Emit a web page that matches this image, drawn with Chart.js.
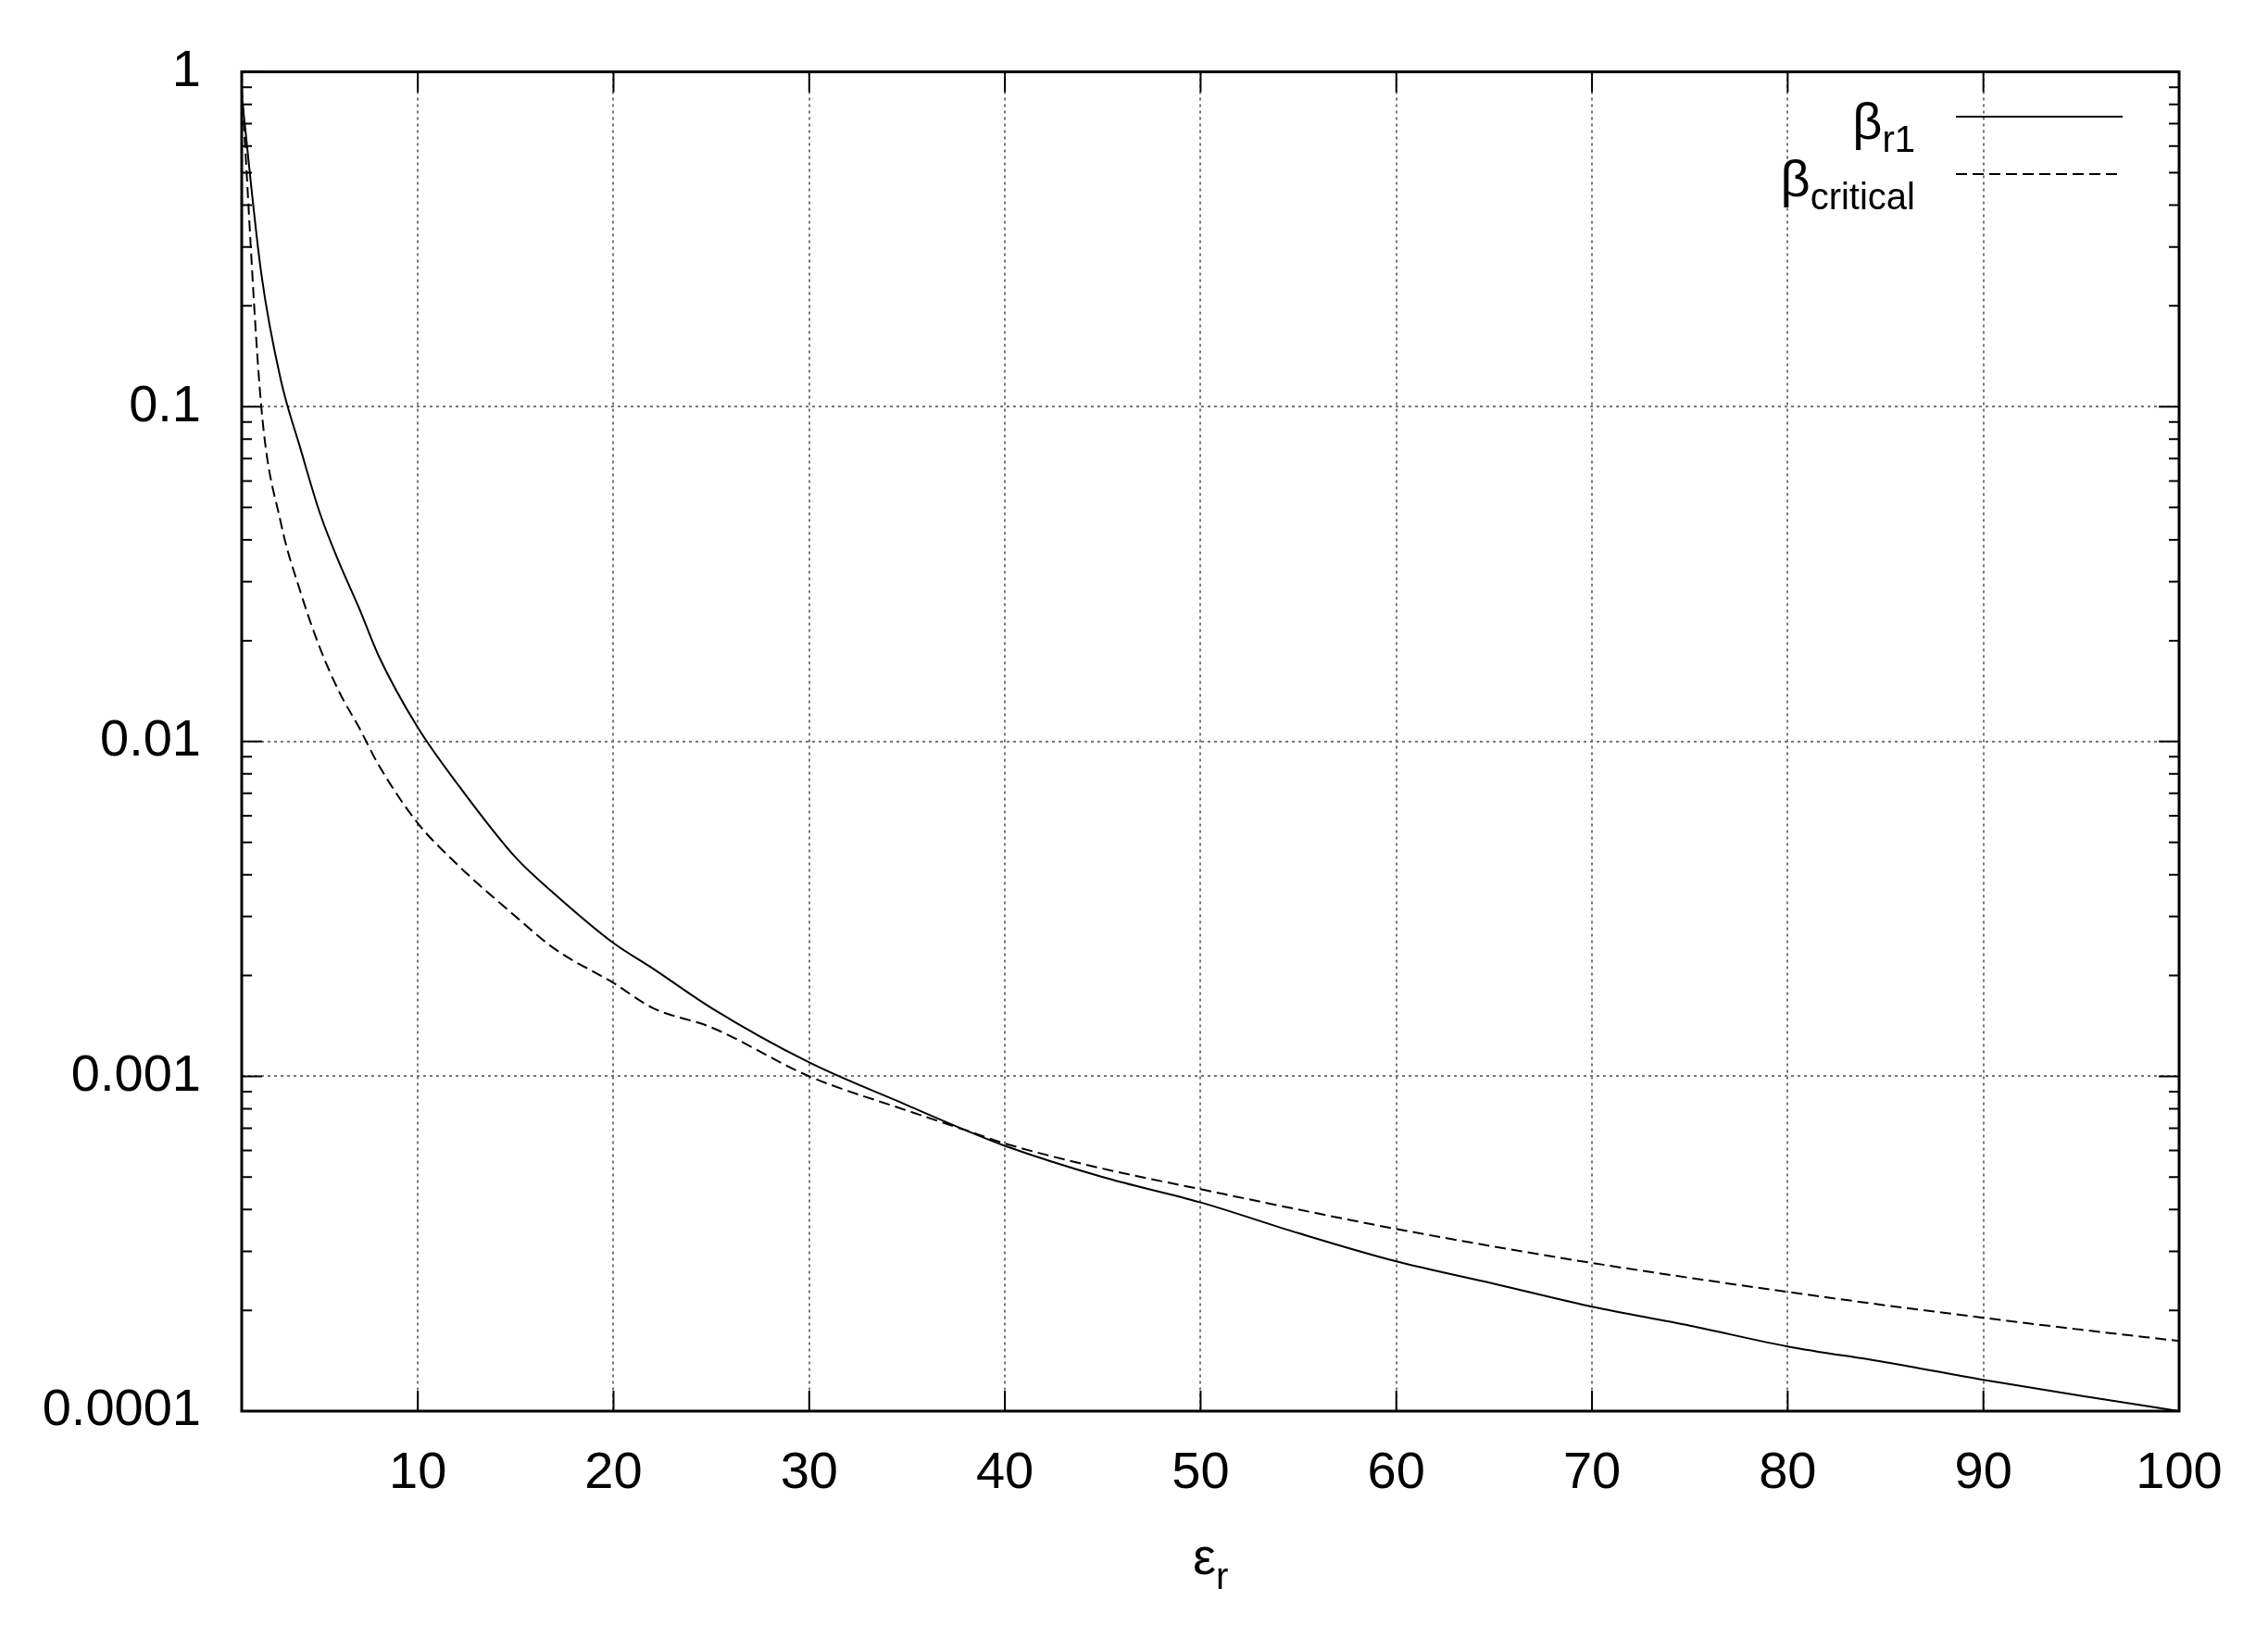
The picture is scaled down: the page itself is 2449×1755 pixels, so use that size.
<!DOCTYPE html>
<html>
<head>
<meta charset="utf-8">
<script src="https://cdn.jsdelivr.net/npm/chart.js@4/dist/chart.umd.min.js"></script>
<style>
  html, body { margin: 0; padding: 0; background: #fff; }
  #wrap { width: 2449px; height: 1755px; }
</style>
</head>
<body>
<div id="wrap"><canvas id="c"></canvas></div>
<script>
const epsR = [1, 2, 3, 4, 5, 6, 7, 8, 10, 12, 15, 17, 20, 22, 25, 30, 35, 38, 40, 45, 50, 55, 60, 65, 70, 75, 80, 85, 90, 95, 100];
const betaR1 = [0.85, 0.25, 0.12, 0.075, 0.048, 0.034, 0.025, 0.018, 0.011, 0.0075, 0.0045, 0.0035, 0.0025, 0.0021, 0.0016, 0.0011, 0.00082, 0.00069, 0.00062, 0.0005, 0.00042, 0.00034, 0.00028, 0.00024, 0.000205, 0.00018, 0.000156, 0.00014, 0.000124, 0.000111, 0.0001];
const betaCritical = [0.9, 0.1, 0.045, 0.028, 0.019, 0.014, 0.011, 0.0085, 0.0057, 0.0043, 0.003, 0.0024, 0.0019, 0.0016, 0.0014, 0.001, 0.00079, 0.00069, 0.00063, 0.00053, 0.00046, 0.0004, 0.00035, 0.00031, 0.000277, 0.00025, 0.000227, 0.000207, 0.00019, 0.000175, 0.000162];
const xTicks = [10, 20, 30, 40, 50, 60, 70, 80, 90, 100];
const yTicks = [0.0001, 0.001, 0.01, 0.1, 1];
const yLabels = ['0.0001', '0.001', '0.01', '0.1', '1'];
const seriesNames = [['β', 'r1'], ['β', 'critical']];

const FONT = '"Liberation Sans", Arial, sans-serif';

const frame = {
  id: 'frame',
  afterDraw(chart) {
    const { ctx, chartArea: a, scales: { x, y } } = chart;
    ctx.save();
    ctx.strokeStyle = '#000';
    ctx.lineWidth = 2;
    // major ticks, inward, mirrored
    xTicks.forEach(v => {
      const px = x.getPixelForValue(v);
      ctx.beginPath();
      ctx.moveTo(px, a.bottom); ctx.lineTo(px, a.bottom - 22);
      ctx.moveTo(px, a.top); ctx.lineTo(px, a.top + 22);
      ctx.stroke();
    });
    for (let d = -4; d <= 0; d++) {
      for (let m = 1; m <= 9; m++) {
        const v = m * Math.pow(10, d);
        if (v > 1 || v < 0.0001) continue;
        const py = y.getPixelForValue(v);
        const len = m === 1 ? 22 : 11;
        ctx.beginPath();
        ctx.moveTo(a.left, py); ctx.lineTo(a.left + len, py);
        ctx.moveTo(a.right, py); ctx.lineTo(a.right - len, py);
        ctx.stroke();
      }
    }
    ctx.lineWidth = 3;
    ctx.strokeRect(a.left, a.top, a.right - a.left, a.bottom - a.top);

    // legend
    ctx.fillStyle = '#000';
    ctx.textBaseline = 'alphabetic';
    const rows = [{ y: 150, dash: [] }, { y: 212, dash: [12, 6] }];
    rows.forEach((r, i) => {
      const [base, sub] = seriesNames[i];
      ctx.font = '40px ' + FONT;
      const subW = ctx.measureText(sub).width;
      const right = 2068;
      ctx.fillText(sub, right - subW, r.y + 14);
      ctx.font = '56px ' + FONT;
      const baseW = ctx.measureText(base).width;
      ctx.fillText(base, right - subW - baseW, r.y);
      ctx.beginPath();
      ctx.setLineDash(r.dash);
      ctx.lineWidth = 2;
      ctx.moveTo(2112, r.y - 24); ctx.lineTo(2292, r.y - 24);
      ctx.stroke();
      ctx.setLineDash([]);
    });

    // x title
    ctx.font = '56px ' + FONT;
    const w = ctx.measureText('ε').width;
    ctx.fillText('ε', 1288, 1700);
    ctx.font = '40px ' + FONT;
    ctx.fillText('r', 1288 + w, 1716);
    ctx.restore();
  }
};

new Chart(document.getElementById('c'), {
  type: 'line',
  data: {
    datasets: [
      {
        data: epsR.map((e, i) => ({ x: e, y: betaR1[i] })),
        borderColor: '#000', borderWidth: 2, pointRadius: 0,
        cubicInterpolationMode: 'monotone'
      },
      {
        data: epsR.map((e, i) => ({ x: e, y: betaCritical[i] })),
        borderColor: '#000', borderWidth: 2, pointRadius: 0, borderDash: [12, 6],
        cubicInterpolationMode: 'monotone'
      }
    ]
  },
  options: {
    responsive: true,
    maintainAspectRatio: false,
    animation: false,
    devicePixelRatio: 1,
    layout: { padding: { top: 72, right: 96, left: 0, bottom: 0 } },
    plugins: { legend: { display: false }, tooltip: { enabled: false } },
    scales: {
      x: {
        type: 'linear', min: 1, max: 100,
        afterBuildTicks: s => { s.ticks = xTicks.map(v => ({ value: v })); },
        afterFit: s => { s.height = 219 + 12; },
        grid: { color: '#777', lineWidth: 2, drawTicks: false },
        border: { display: false, dash: [3, 4] },
        ticks: { color: '#000', padding: 34, maxRotation: 0, font: { size: 56, family: FONT } }
      },
      y: {
        type: 'logarithmic', min: 0.0001, max: 1,
        afterBuildTicks: s => { s.ticks = yTicks.map(v => ({ value: v })); },
        afterFit: s => { s.width = 261; },
        grid: { color: '#777', lineWidth: 2, drawTicks: false },
        border: { display: false, dash: [3, 4] },
        ticks: {
          color: '#000', padding: 44, font: { size: 56, family: FONT },
          callback: v => { const i = yTicks.findIndex(t => Math.abs(t - v) / t < 1e-6); return i >= 0 ? yLabels[i] : ''; }
        }
      }
    }
  },
  plugins: [frame]
});
</script>
</body>
</html>
